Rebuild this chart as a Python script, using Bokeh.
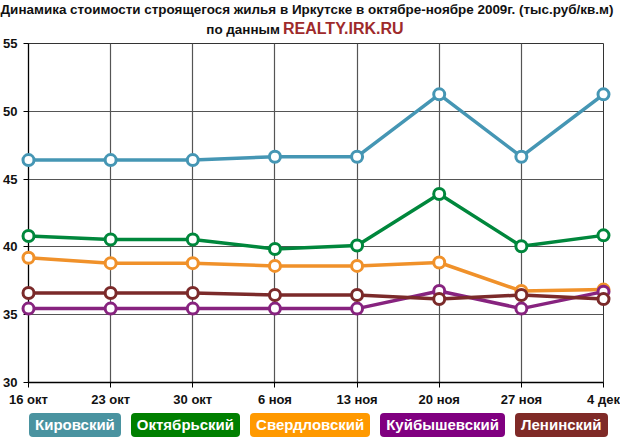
from bokeh.plotting import figure
from bokeh.models import FixedTicker, Range1d, Div
from bokeh.layouts import column
from bokeh.embed import file_html
from bokeh.resources import INLINE

dates = ["16 окт", "23 окт", "30 окт", "6 ноя", "13 ноя", "20 ноя", "27 ноя", "4 дек"]
kirovsky = [46.4, 46.4, 46.4, 46.65, 46.65, 51.25, 46.65, 51.25]
oktyabrsky = [40.8, 40.55, 40.55, 39.85, 40.1, 43.9, 40.05, 40.85]
sverdlovsky = [39.2, 38.8, 38.8, 38.6, 38.6, 38.85, 36.75, 36.85]
kuybyshevsky = [35.45, 35.45, 35.45, 35.45, 35.45, 36.75, 35.45, 36.7]
leninsky = [36.6, 36.6, 36.6, 36.45, 36.45, 36.15, 36.45, 36.15]
series_names = ["Кировский", "Октябрьский", "Свердловский", "Куйбышевский", "Ленинский"]
y_ticks = [30, 35, 40, 45, 50, 55]

title_line1 = "Динамика стоимости строящегося жилья в Иркутске в октябре-ноябре 2009г. (тыс.руб/кв.м)"
title_line2a = "по данным"
title_line2b = "REALTY.IRK.RU"

line_colors = ["#4596b4", "#00873c", "#f0912a", "#87237f", "#7b2a2a"]
legend_colors = ["#4a93a0", "#007f00", "#ff9900", "#800080", "#7f2a27"]
series = [kirovsky, oktyabrsky, sverdlovsky, kuybyshevsky, leninsky]

FONT = "Liberation Sans"
W = 620
TITLE_H, FIG_H, LEG_H = 36, 374, 28

xs = list(range(len(dates)))

# ---- title ----
title_html = (
    f"<div style=\"position:relative;width:{W}px;height:{TITLE_H}px;font-family:'{FONT}';"
    f"font-weight:bold;color:#111;white-space:nowrap;\">"
    f"<div style=\"position:absolute;left:0;top:2px;width:614px;text-align:center;"
    f"font-size:13.45px;line-height:15px;\">{title_line1}</div>"
    f"<div style=\"position:absolute;right:{W - 280}px;top:21px;text-align:right;"
    f"font-size:13.45px;line-height:17px;\">{title_line2a}</div>"
    f"<div style=\"position:absolute;left:283px;top:20px;color:#9e2a2b;"
    f"font-size:16px;line-height:17px;\">{title_line2b}</div>"
    f"</div>"
)
title_div = Div(text=title_html, width=W, height=TITLE_H, margin=0)

# ---- plot ----
p = figure(width=W, height=FIG_H, output_backend="svg", toolbar_location=None,
           x_range=Range1d(0, len(dates) - 1), y_range=Range1d(y_ticks[0], y_ticks[-1]),
           min_border_left=28, min_border_right=17,
           min_border_top=7, min_border_bottom=28, margin=0)
p.background_fill_color = "white"
p.border_fill_color = "white"
p.outline_line_color = "#333333"
p.outline_line_width = 1

p.xgrid.ticker = FixedTicker(ticks=xs)
p.ygrid.ticker = FixedTicker(ticks=y_ticks)
p.grid.grid_line_color = "#555555"
p.grid.grid_line_width = 1.2

p.xaxis.ticker = FixedTicker(ticks=xs)
p.xaxis.major_label_overrides = {i: d for i, d in zip(xs, dates)}
p.yaxis.ticker = FixedTicker(ticks=y_ticks)
for ax in (p.xaxis[0], p.yaxis[0]):
    ax.axis_line_color = "black"
    ax.axis_line_width = 1.3
    ax.major_tick_line_color = "black"
    ax.major_tick_in = 0
    ax.major_tick_out = 5
    ax.minor_tick_line_color = None
    ax.major_label_text_font = FONT
    ax.major_label_text_font_style = "bold"
    ax.major_label_text_font_size = "13px"
    ax.major_label_text_color = "#111111"
p.xaxis.major_label_standoff = 4
p.yaxis.major_label_standoff = 6

for vals, col in zip(series, line_colors):
    p.line(xs, vals, line_color=col, line_width=3.5)
for vals, col in zip(series, line_colors):
    p.scatter(xs, vals, size=11, fill_color="white", line_color=col, line_width=3,
              level="overlay")

# ---- legend ----
items = "".join(
    f"<span style=\"background:{c};color:white;border-radius:4px;padding:0 6px;"
    f"height:24px;line-height:24px;display:inline-block;\">{n}</span>"
    for n, c in zip(series_names, legend_colors)
)
legend_html = (
    f"<div style=\"font-family:'{FONT}';font-weight:bold;font-size:15px;width:{W}px;"
    f"display:flex;justify-content:flex-start;gap:10px;padding-left:29px;box-sizing:border-box;"
    f"padding-top:3px;white-space:nowrap;\">{items}</div>"
)
legend_div = Div(text=legend_html, width=W, height=LEG_H, margin=0)

layout = column(title_div, p, legend_div, spacing=0)
open("out.html", "w").write(file_html(layout, INLINE))
